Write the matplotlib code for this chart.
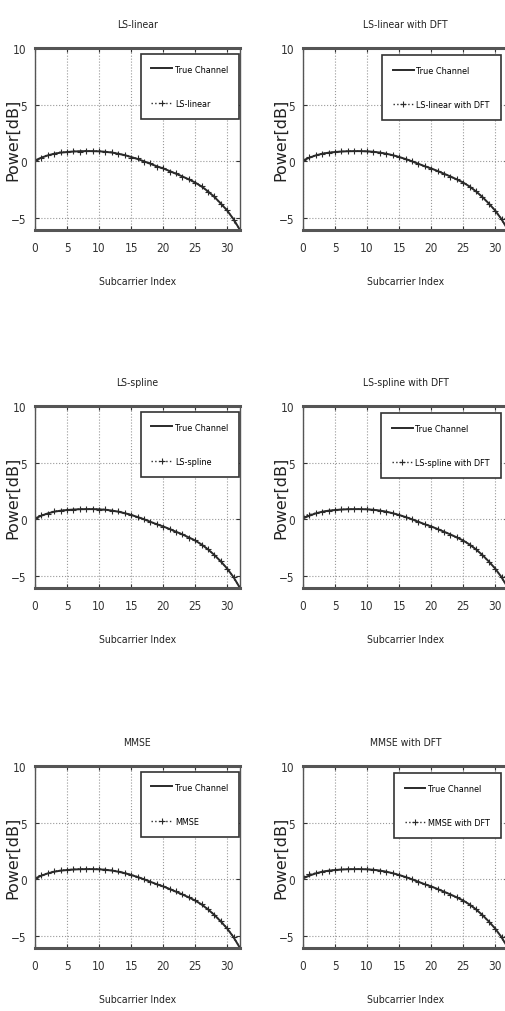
import numpy as np
import matplotlib
matplotlib.use('Agg')
import matplotlib.pyplot as plt

# subcarrier index 0..32
subcarrier = list(range(33))

true_channel = [0.05, 0.30, 0.50, 0.65, 0.74, 0.80, 0.84, 0.87, 0.88, 0.88,
                0.86, 0.82, 0.75, 0.65, 0.52, 0.36, 0.18, -0.02, -0.24, -0.46,
                -0.65, -0.88, -1.12, -1.36, -1.62, -1.90, -2.25, -2.68, -3.18, -3.75,
                -4.38, -5.15, -6.10]

ls_linear = [0.05, 0.28, 0.55, 0.62, 0.80, 0.76, 0.88, 0.84, 0.92, 0.85,
             0.90, 0.78, 0.80, 0.60, 0.57, 0.30, 0.24, -0.08, -0.18, -0.55,
             -0.58, -0.95, -1.05, -1.45, -1.55, -1.98, -2.18, -2.75, -3.10, -3.82,
             -4.30, -5.22, -6.10]

ls_linear_dft = [0.08, 0.32, 0.52, 0.66, 0.75, 0.80, 0.85, 0.87, 0.88, 0.87,
                 0.85, 0.81, 0.74, 0.64, 0.51, 0.35, 0.17, -0.03, -0.25, -0.47,
                 -0.66, -0.89, -1.13, -1.37, -1.63, -1.91, -2.26, -2.69, -3.19, -3.76,
                 -4.39, -5.16, -6.10]

ls_spline = [0.05, 0.35, 0.48, 0.70, 0.72, 0.84, 0.82, 0.90, 0.86, 0.92,
             0.84, 0.85, 0.72, 0.68, 0.50, 0.40, 0.15, 0.02, -0.28, -0.42,
             -0.70, -0.84, -1.16, -1.32, -1.68, -1.86, -2.30, -2.64, -3.22, -3.72,
             -4.40, -5.12, -6.10]

ls_spline_dft = [0.30, 0.40, 0.52, 0.64, 0.74, 0.80, 0.85, 0.87, 0.88, 0.87,
                 0.86, 0.81, 0.74, 0.64, 0.51, 0.35, 0.17, -0.03, -0.25, -0.47,
                 -0.66, -0.89, -1.13, -1.37, -1.63, -1.91, -2.26, -2.69, -3.19, -3.76,
                 -4.39, -5.16, -6.10]

mmse = [0.05, 0.33, 0.52, 0.68, 0.76, 0.82, 0.86, 0.89, 0.90, 0.90,
        0.88, 0.84, 0.77, 0.67, 0.54, 0.38, 0.20, 0.00, -0.22, -0.44,
        -0.63, -0.86, -1.10, -1.34, -1.60, -1.88, -2.23, -2.66, -3.16, -3.73,
        -4.36, -5.13, -6.10]

mmse_dft = [0.28, 0.42, 0.52, 0.64, 0.74, 0.80, 0.85, 0.87, 0.88, 0.87,
            0.86, 0.81, 0.74, 0.64, 0.51, 0.35, 0.17, -0.03, -0.25, -0.47,
            -0.66, -0.89, -1.13, -1.37, -1.63, -1.91, -2.26, -2.69, -3.19, -3.76,
            -4.39, -5.16, -6.10]

titles = ['LS-linear', 'LS-linear with DFT', 'LS-spline', 'LS-spline with DFT',
          'MMSE', 'MMSE with DFT']
estimates = [ls_linear, ls_linear_dft, ls_spline, ls_spline_dft, mmse, mmse_dft]

xticks = [0, 5, 10, 15, 20, 25, 30]
yticks = [-5, 0, 5, 10]

plt.rcParams['font.family'] = ['DejaVu Sans']
plt.rcParams['font.stretch'] = 'condensed'

W, H = 505, 1012
fig = plt.figure(figsize=(W / 100, H / 100), dpi=100)

col_left = [35, 303]
row_top = [49, 407, 767]
ax_w, ax_h = 205, 182
leg_anchor = [(0.995, 0.968), (0.965, 0.96)]

lc = '#2a2a2a'
for k in range(6):
    r, c = k // 2, k % 2
    ax = fig.add_axes([col_left[c] / W, 1 - (row_top[r] + ax_h) / H, ax_w / W, ax_h / H])
    ax.plot(subcarrier, true_channel, '-', color=lc, lw=1.4, label='True Channel')
    ax.plot(subcarrier, estimates[k], ':', color=lc, lw=1.0, marker='+', ms=4,
            mew=0.8, label=titles[k])
    ax.set_xlim(0, 32)
    ax.set_ylim(-6.1, 10)
    ax.set_xticks(xticks)
    ax.set_yticks(yticks)
    ax.grid(True, ls=':', color='#999999', lw=0.8)
    ax.tick_params(direction='in', top=True, right=True, labelsize=8.5, length=3,
                   colors='#333333', pad=8)
    ax.tick_params(axis='y', pad=6)
    for s in ax.spines.values():
        s.set_color('#555555')
        s.set_linewidth(1.0)
    ax.spines['top'].set_linewidth(2.2)
    ax.spines['bottom'].set_linewidth(2.2)
    ax.set_title(titles[k], fontsize=7.5, pad=15, color='#222222')
    ax.set_xlabel('Subcarrier Index', fontsize=7.5, labelpad=16, color='#222222')
    ax.set_ylabel('Power[dB]', fontsize=11.5, fontstretch='normal', color='#222222')
    ax.yaxis.set_label_coords(-0.072, 0.5)
    leg = ax.legend(loc='upper right', bbox_to_anchor=leg_anchor[c], borderaxespad=0,
                    fontsize=6.5, fancybox=False, framealpha=1, edgecolor='#333333',
                    handlelength=2.3, labelspacing=2.8, borderpad=1.2, handletextpad=0.3)
    leg.get_frame().set_linewidth(1.2)

fig.savefig('out.png', dpi=100)
